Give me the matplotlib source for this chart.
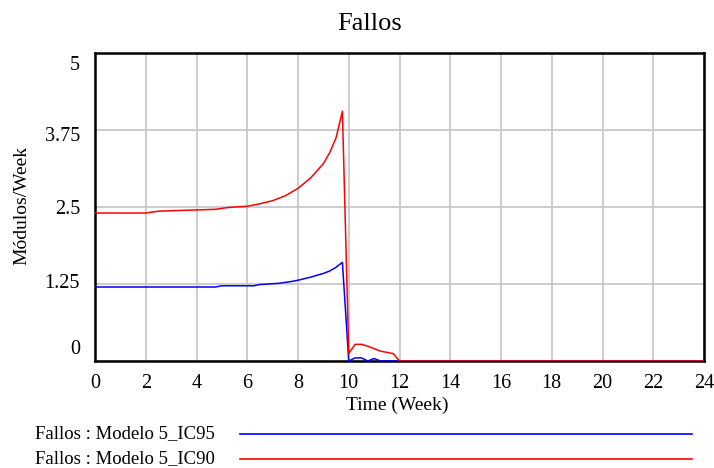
import matplotlib
matplotlib.use("Agg")
import matplotlib.pyplot as plt
from matplotlib.lines import Line2D

plt.rcParams['font.family'] = ['Liberation Serif', 'DejaVu Serif']

title = "Fallos"
xlabel = "Time (Week)"
ylabel = "Módulos/Week"
series_names = ["Fallos : Modelo 5_IC95", "Fallos : Modelo 5_IC90"]
series_colors = ["#0000ff", "#ff0000"]

x_ticks = [0, 2, 4, 6, 8, 10, 12, 14, 16, 18, 20, 22, 24]
y_ticks = [0, 1.25, 2.5, 3.75, 5]
y_tick_labels = ["0", "1.25", "2.5", "3.75", "5"]

t_ic95 = [0, 4.75, 5, 6.25, 6.5, 7.25, 7.75, 8, 8.5, 9, 9.25, 9.5, 9.75,
          10, 10.25, 10.5, 10.75, 11, 11.25, 11.5, 12, 24]
v_ic95 = [1.20, 1.20, 1.22, 1.22, 1.24, 1.26, 1.29, 1.31, 1.36, 1.42, 1.46, 1.52, 1.60,
          0.0, 0.05, 0.05, 0.0, 0.04, 0.0, 0.0, 0.0, 0.0]

t_ic90 = [0, 2, 2.5, 4, 4.75, 5.25, 6, 6.5, 7, 7.5, 8, 8.5, 9, 9.25, 9.5, 9.75,
          10, 10.25, 10.5, 10.75, 11, 11.25, 11.5, 11.75, 12, 24]
v_ic90 = [2.40, 2.40, 2.43, 2.45, 2.46, 2.49, 2.51, 2.55, 2.60, 2.68, 2.80, 2.97, 3.20, 3.38, 3.62, 4.05,
          0.12, 0.27, 0.27, 0.24, 0.20, 0.16, 0.14, 0.12, 0.0, 0.0]

W, H = 714, 468
fig = plt.figure(figsize=(W / 100, H / 100), dpi=100)
ax = fig.add_axes([95 / W, 1 - 361 / H, (704 - 95) / W, (361 - 52.7) / H])

ax.plot(t_ic95, v_ic95, color=series_colors[0], lw=1.1, zorder=3)
ax.plot(t_ic90, v_ic90, color=series_colors[1], lw=1.1, zorder=3)

ax.set_xlim(0, 24)
ax.set_ylim(0, 5)
ax.set_xticks(x_ticks)
ax.set_yticks(y_ticks)
ax.grid(True, color="#c8c8c8", lw=1.3)
ax.set_axisbelow(True)
ax.tick_params(length=0, labelsize=14.5)
ax.tick_params(axis='x', pad=9)
ax.set_yticklabels([])
for s in ax.spines.values():
    s.set_linewidth(1.8)
    s.set_color("black")

# y tick labels (Vensim-style offsets)
y_offsets = [11, 0, -3, -7, -13]
for v, lab, dy in zip(y_ticks, y_tick_labels, y_offsets):
    ax.annotate(lab, xy=(0, v), xycoords=('axes fraction', 'data'),
                xytext=(-15, dy), textcoords='offset pixels',
                ha='right', va='center', fontsize=14.5)

fig.text(370 / W, 1 - 24 / H, title, ha='center', va='center', fontsize=19)
fig.text(397 / W, 1 - 405 / H, xlabel, ha='center', va='center', fontsize=14)
fig.text(22 / W, 1 - 205 / H, ylabel, ha='center', va='center', rotation=90, fontsize=14)

# legend
for i, (name, col) in enumerate(zip(series_names, series_colors)):
    yy = 1 - (434 + 25 * i) / H
    fig.text(35 / W, yy, name, ha='left', va='center', fontsize=13.5)
    fig.add_artist(Line2D([240 / W, 692 / W], [yy, yy], color=col, lw=1.2,
                          transform=fig.transFigure))

fig.savefig("out.png", dpi=100)
